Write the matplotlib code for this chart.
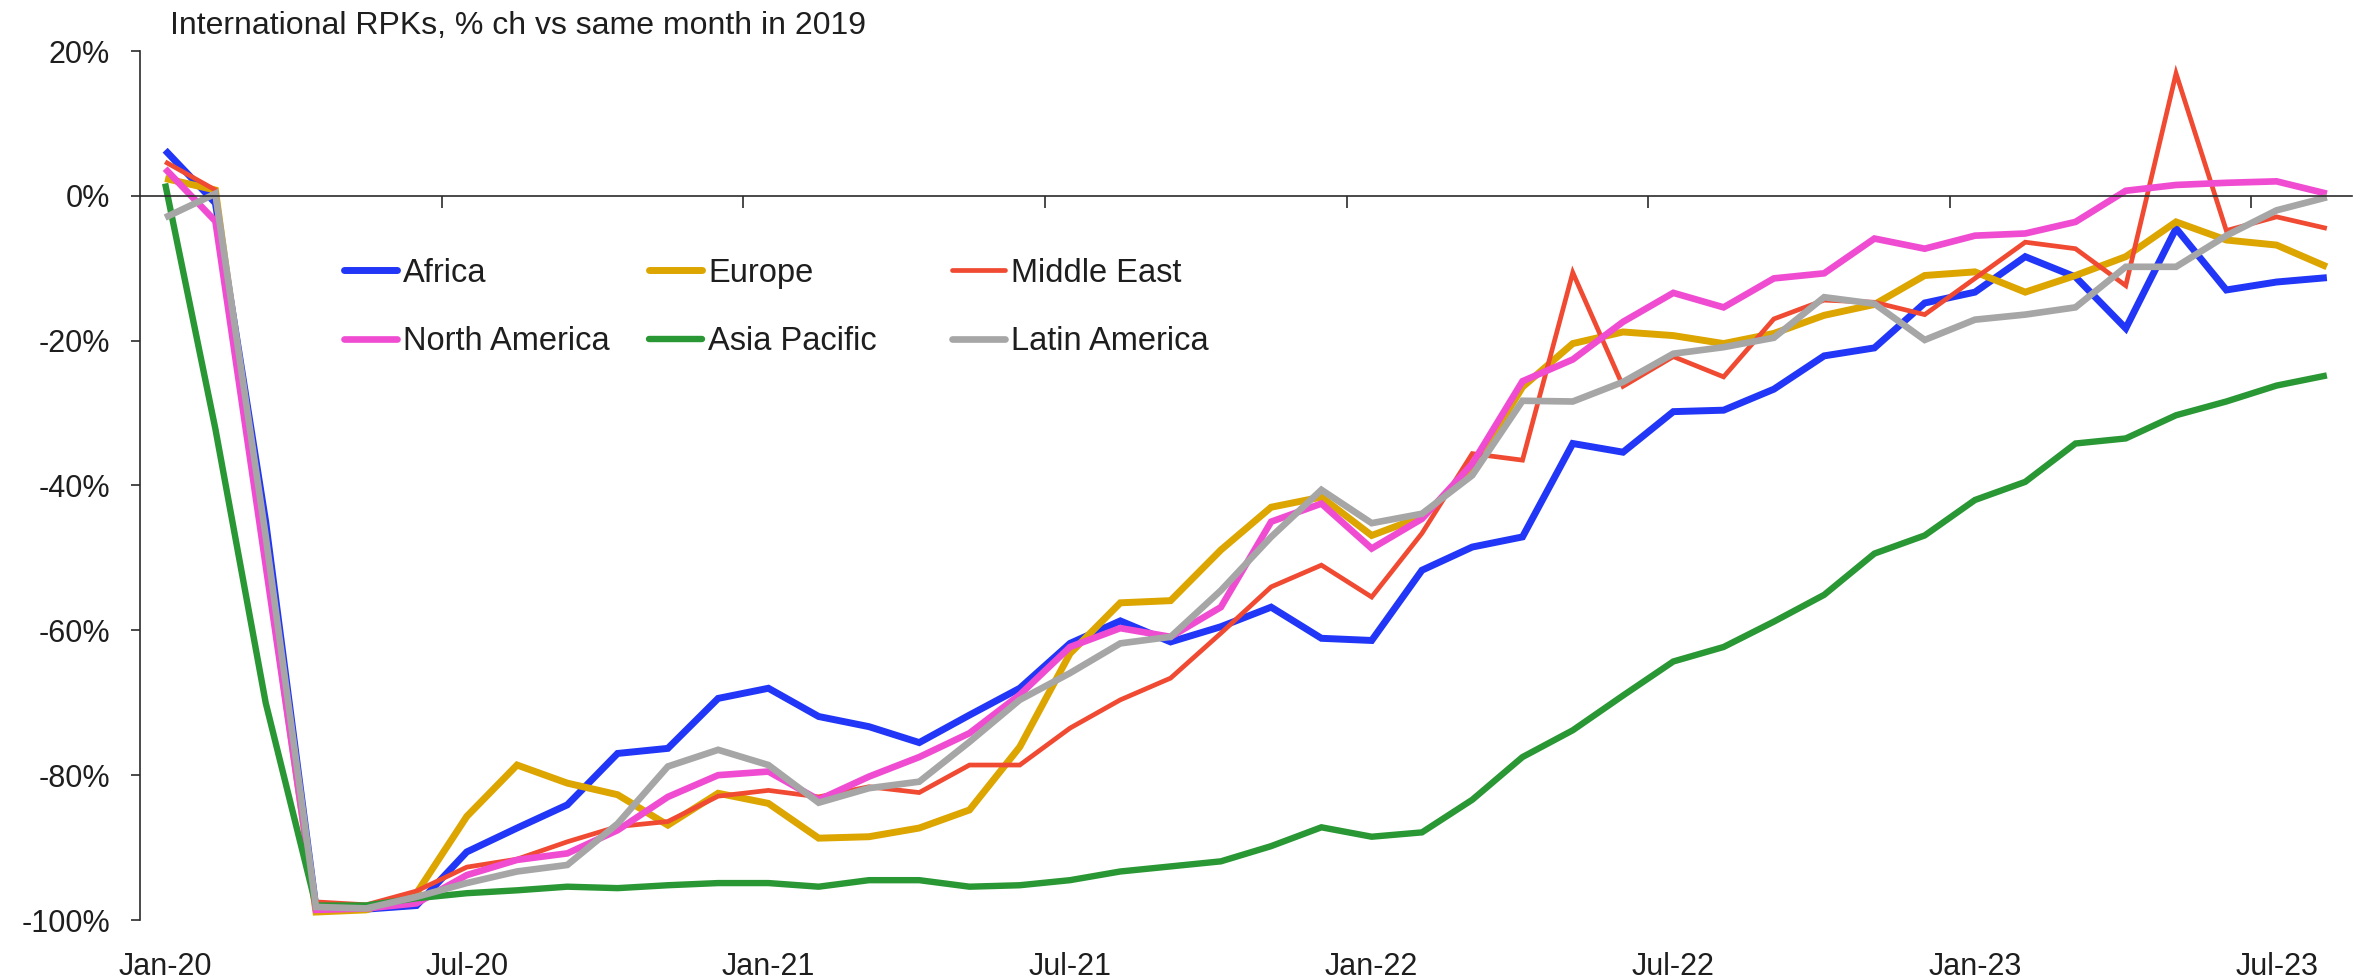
import matplotlib
matplotlib.use("Agg")
import matplotlib.pyplot as plt
import numpy as np

plt.rcParams['font.family'] = ['Liberation Sans', 'DejaVu Sans']
plt.rcParams['axes.unicode_minus'] = False

months = ["Jan-20", "Feb-20", "Mar-20", "Apr-20", "May-20", "Jun-20", "Jul-20", "Aug-20", "Sep-20", "Oct-20",
          "Nov-20", "Dec-20", "Jan-21", "Feb-21", "Mar-21", "Apr-21", "May-21", "Jun-21", "Jul-21", "Aug-21",
          "Sep-21", "Oct-21", "Nov-21", "Dec-21", "Jan-22", "Feb-22", "Mar-22", "Apr-22", "May-22", "Jun-22",
          "Jul-22", "Aug-22", "Sep-22", "Oct-22", "Nov-22", "Dec-22", "Jan-23", "Feb-23", "Mar-23", "Apr-23",
          "May-23", "Jun-23", "Jul-23", "Aug-23"]

africa = [6.3, -1.0, -45, -98.3, -98.5, -98.0, -90.6, -87.3, -84.1, -77.0,
          -76.3, -69.4, -68.0, -71.9, -73.3, -75.5, -71.7, -68.0, -61.8, -58.7,
          -61.6, -59.5, -56.8, -61.1, -61.4, -51.7, -48.5, -47.1, -34.2, -35.4,
          -29.8, -29.6, -26.7, -22.1, -21.0, -14.8, -13.3, -8.4, -11.2, -18.3,
          -4.5, -13.0, -11.9, -11.3]
europe = [2.4, 0.8, -50, -98.9, -98.6, -96.3, -85.7, -78.6, -81.1, -82.7,
          -86.9, -82.5, -83.9, -88.7, -88.5, -87.3, -84.8, -76.1, -63.2, -56.2,
          -55.9, -48.9, -43.0, -41.6, -46.9, -44.3, -37.9, -26.4, -20.4, -18.8,
          -19.3, -20.4, -19.0, -16.5, -15.0, -11.0, -10.5, -13.3, -11.0, -8.4,
          -3.6, -6.1, -6.8, -9.8]
middle_east = [4.7, 0.8, -50, -97.5, -97.9, -96.0, -92.7, -91.6, -89.2, -87.1,
               -86.4, -82.9, -82.1, -83.0, -81.6, -82.4, -78.6, -78.6, -73.5, -69.6,
               -66.6, -60.4, -54.0, -51.0, -55.4, -46.6, -35.6, -36.5, -10.6, -26.3,
               -22.2, -25.0, -17.0, -14.4, -14.7, -16.4, -11.4, -6.4, -7.3, -12.4,
               16.9, -4.8, -2.9, -4.5]
north_america = [3.75, -3.5, -51, -98.6, -98.4, -97.7, -93.8, -91.7, -90.8, -87.6,
                 -83.0, -80.0, -79.5, -83.4, -80.2, -77.5, -74.2, -68.9, -62.3, -59.7,
                 -60.9, -56.8, -45.0, -42.5, -48.7, -44.6, -37.0, -25.6, -22.6, -17.4,
                 -13.4, -15.4, -11.4, -10.7, -5.9, -7.3, -5.5, -5.2, -3.6, 0.7,
                 1.5, 1.8, 2.0, 0.3]
asia_pacific = [1.7, -32.2, -70, -98.0, -98.0, -97.0, -96.3, -95.9, -95.4, -95.6,
                -95.2, -94.9, -94.9, -95.4, -94.5, -94.5, -95.4, -95.2, -94.5, -93.3,
                -92.6, -91.9, -89.8, -87.2, -88.5, -87.9, -83.4, -77.5, -73.8, -69.0,
                -64.3, -62.3, -58.8, -55.1, -49.4, -46.9, -42.0, -39.5, -34.2, -33.5,
                -30.3, -28.4, -26.2, -24.8]
latin_america = [-3.0, 0.3, -47, -98.2, -98.4, -96.8, -94.9, -93.3, -92.4, -86.7,
                 -78.8, -76.5, -78.6, -83.8, -81.8, -80.9, -75.4, -69.6, -65.9, -61.8,
                 -60.9, -54.5, -47.1, -40.6, -45.2, -43.9, -38.6, -28.3, -28.4, -25.7,
                 -21.8, -20.9, -19.6, -14.0, -14.9, -19.9, -17.1, -16.4, -15.4, -9.8,
                 -9.8, -5.5, -2.0, -0.2]

series_names = ["Africa", "Europe", "Middle East", "North America", "Asia Pacific", "Latin America"]
series_values = [africa, europe, middle_east, north_america, asia_pacific, latin_america]
series_colors = ["#2136F7", "#DDA500", "#F04A32", "#F04CD2", "#2A9735", "#A6A6A6"]
series_widths = [5.0, 5.0, 3.4, 4.8, 4.6, 4.8]

title = "International RPKs, % ch vs same month in 2019"
y_ticks = [20, 0, -20, -40, -60, -80, -100]
label_every = 6

W, H = 2364, 980
fig = plt.figure(figsize=(W / 100, H / 100), dpi=100)
fig.patch.set_facecolor("white")
ax = fig.add_axes([140 / W, 1 - 920 / H, (2352 - 140) / W, (920 - 51) / H])

x = np.arange(len(months))
lines = []
for name, vals, col, lw in zip(series_names, series_values, series_colors, series_widths):
    ln, = ax.plot(x, vals, color=col, lw=lw, label=name, solid_joinstyle='miter',
                  solid_capstyle='butt')
    lines.append(ln)

text_color = "#1E1E1E"
axis_color = "#2B2B2B"

ax.set_xlim(-0.5, len(months) - 0.5)
ax.set_ylim(-100, 20)

for s in ["top", "right"]:
    ax.spines[s].set_visible(False)
ax.spines["left"].set_color(axis_color)
ax.spines["left"].set_linewidth(1.2)
ax.spines["bottom"].set_position(("data", 0))
ax.spines["bottom"].set_color(axis_color)
ax.spines["bottom"].set_linewidth(1.2)

# y axis
ax.set_yticks(y_ticks)
ax.set_yticklabels([f"{v}%" for v in y_ticks])
ax.tick_params(axis="y", direction="out", length=6.5, width=1.2, color=axis_color,
               pad=15, labelsize=22, labelcolor=text_color)

# x axis: tick marks between category groups on the zero line
ax.set_xticks(np.arange(label_every - 0.5, len(months) - 1, label_every))
ax.tick_params(axis="x", direction="out", length=8.5, width=1.2, color=axis_color,
               labelbottom=False)

# x labels at bottom
sec = ax.secondary_xaxis("bottom")
idx = list(range(0, len(months), label_every))
sec.set_xticks(idx, labels=[months[i] for i in idx])
sec.tick_params(axis="x", length=0, pad=23, labelsize=22, labelcolor=text_color)
sec.spines["bottom"].set_visible(False)

fig.text(170 / W, 1 - 34 / H, title, fontsize=23, color=text_color, va="baseline", ha="left")

# legend in three equal-width columns
cols = [(344, [lines[0], lines[3]]), (649, [lines[1], lines[4]]), (952, [lines[2], lines[5]])]
legs = []
for xpx, hs in cols:
    lg = ax.legend(handles=hs, loc="center left", bbox_to_anchor=(xpx / W, 1 - 307.5 / H),
                   bbox_transform=fig.transFigure, frameon=False, borderpad=0, borderaxespad=0,
                   handlelength=1.63, handletextpad=0.18, labelspacing=1.15, fontsize=23.5)
    for t in lg.get_texts():
        t.set_color(text_color)
    for lh in lg.get_lines():
        lh.set_solid_capstyle("round")
    legs.append(lg)
for lg in legs[:-1]:
    ax.add_artist(lg)

fig.savefig("out.png", dpi=100, facecolor="white")
